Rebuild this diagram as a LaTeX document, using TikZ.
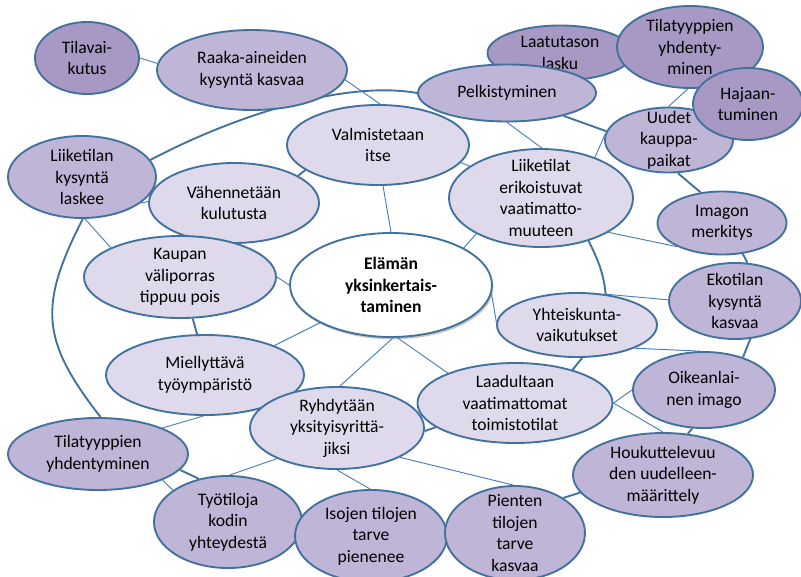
\documentclass[tikz,border=0pt]{standalone}
\usepackage{fontspec}
\setmainfont{Carlito}
\usepackage{tikz}
\usetikzlibrary{shapes}
\usetikzlibrary{shadows}
\definecolor{rimblue}{HTML}{41719C}
\definecolor{linkblue}{HTML}{4A7EBB}
\definecolor{palelilac}{HTML}{DFDAEB}
\definecolor{midlilac}{HTML}{BFB5D6}
\definecolor{deeplilac}{HTML}{A799C4}
\pgfdeclarelayer{background}
\pgfsetlayers{background,main}
\tikzset{
    bubble/.style={ellipse, draw=rimblue, line width=1.6pt, inner sep=0pt},
    palebub/.style={bubble, fill=palelilac},
    midbub/.style={bubble, fill=midlilac},
    deepbub/.style={bubble, fill=deeplilac},
    corebub/.style={bubble, fill=white,
        drop shadow={shadow xshift=1.2pt, shadow yshift=-2pt, fill=black!45}},
    every label/.style={align=center, inner sep=0pt, font=\fontsize{15}{18.3}\selectfont},
    thinline/.style={draw=linkblue, line width=0.8pt},
    ringline/.style={draw=rimblue, line width=1.6pt},
}

\begin{document}
\begin{tikzpicture}[x=0.03cm, y=0.03cm]
\useasboundingbox (0,0) rectangle (801,-576);

%LEFT SIDE
\node[deepbub, minimum width=3.12cm, minimum height=2.16cm, label=center:{Tilavai-\\kutus}] (tilavai) at (87,-58) {};
\node[midbub, minimum width=5.7cm, minimum height=2.4cm, label=center:{Raaka-aineiden\\kysyntä kasvaa}] (raaka) at (252,-70) {};
\node[midbub, minimum width=4.44cm, minimum height=2.46cm, label=center:{Liiketilan\\kysyntä\\laskee}] (liikelask) at (82,-177) {};
\node[palebub, minimum width=5.1cm, minimum height=2.4cm, label=center:{Vähennetään\\kulutusta}] (vahenn) at (234,-203) {};
\node[palebub, minimum width=5.76cm, minimum height=2.46cm, label=center:{Kaupan\\väliporras\\tippuu pois}] (kaupan) at (180,-277) {};
\node[palebub, minimum width=5.46cm, minimum height=2.4cm, label=center:{Valmistetaan\\itse}] (valm) at (378,-145) {};

%CENTRE
\node[corebub, minimum width=6.06cm, minimum height=3.12cm,
    label={[font=\fontsize{15}{18.3}\selectfont\bfseries]center:{Elämän\\yksinkertais-\\taminen}}] (core) at (391,-285) {};

%BOTTOM
\node[palebub, minimum width=5.94cm, minimum height=2.4cm, label=center:{Miellyttävä\\työympäristö}] (miell) at (205,-375) {};
\node[midbub, minimum width=5.4cm, minimum height=2.16cm, label=center:{Tilatyyppien\\yhdentyminen}] (tilaleft) at (98,-454) {};
\node[palebub, minimum width=5.22cm, minimum height=2.46cm, label=center:{Ryhdytään\\yksityisyrittä-\\jiksi}] (ryhdy) at (337,-428) {};
\node[midbub, minimum width=4.44cm, minimum height=2.76cm, label=center:{Työtiloja\\kodin\\yhteydestä}] (tyotil) at (228,-522) {};
\node[midbub, minimum width=4.56cm, minimum height=2.76cm, label=center:{Isojen tilojen\\tarve\\pienenee}] (isojen) at (371,-536) {};
\node[midbub, minimum width=4.2cm, minimum height=2.82cm, label=center:{Pienten\\tilojen\\tarve\\kasvaa}] (pienten) at (515,-533) {};
\node[midbub, minimum width=5.4cm, minimum height=2.52cm, label=center:{Houkuttelevuu\\den uudelleen-\\määrittely}] (houk) at (663,-475) {};
\node[midbub, minimum width=4.26cm, minimum height=2.28cm, label=center:{Oikeanlai-\\nen imago}] (oikea) at (704,-390) {};
\node[palebub, minimum width=5.85cm, minimum height=2.4cm, label=center:{Laadultaan\\vaatimattomat\\toimistotilat}] (laadult) at (515,-403) {};
\node[palebub, minimum width=4.8cm, minimum height=1.92cm, label=center:{Yhteiskunta-\\vaikutukset}] (yhteis) at (577,-325) {};

%RIGHT SIDE
\node[palebub, minimum width=5.52cm, minimum height=2.94cm, label=center:{Liiketilat\\erikoistuvat\\vaatimatto-\\muuteen}] (erik) at (541,-198) {};
\node[deepbub, minimum width=4.35cm, minimum height=1.65cm, label=center:{Laatutason\\lasku}] (laatu) at (560,-53) {};
\node[deepbub, minimum width=4.38cm, minimum height=2.46cm, label=center:{Tilatyyppien\\yhdenty-\\minen}] (tilatop) at (690,-47) {};
\node[midbub, minimum width=5.34cm, minimum height=1.71cm, label=center:{Pelkistyminen}] (pelk) at (507,-93) {};
\node[midbub, minimum width=3.84cm, minimum height=1.95cm, label=center:{Uudet\\kauppa-\\paikat}] (uudet) at (669,-140) {};
\node[deepbub, minimum width=3.3cm, minimum height=2.16cm, label=center:{Hajaan-\\tuminen}] (hajaan) at (748,-104) {};
\node[midbub, minimum width=3.87cm, minimum height=1.89cm, label=center:{Imagon\\merkitys}] (imagon) at (722,-223) {};
\node[midbub, minimum width=3.96cm, minimum height=2.28cm, label=center:{Ekotilan\\kysyntä\\kasvaa}] (ekotil) at (735,-301) {};

\begin{pgfonlayer}{background}
%THIN LINKS
\draw[thinline] (tilavai.0) -- (raaka.176);
\draw[thinline] (raaka.-6) -- (valm.87);
\draw[thinline] (liikelask.-24) -- (vahenn.179);
\draw[thinline] (liikelask.-86) -- (kaupan.157);
\draw[thinline] (valm.-83) -- (core.90);
\draw[thinline] (kaupan.0) -- (core.180);
\draw[thinline] (core.208) -- (miell.23);
\draw[thinline] (core.-88) -- (ryhdy.86);
\draw[thinline] (core.-83) -- (laadult.156);
\draw[thinline] (core.-5) -- (yhteis.178);
\draw[thinline] (core.27) -- (erik.209);
\draw[thinline] (pelk.-90) -- (erik.89);
\draw[thinline] (valm.-12) -- (erik.156);
\draw[thinline] (uudet.175) -- (erik.37);
\draw[thinline] (uudet.91) -- (tilatop.-93);
\draw[thinline] (erik.-27) -- (imagon.208);
\draw[thinline] (yhteis.47) -- (ekotil.179);
\draw[thinline] (yhteis.-22) -- (oikea.96);
\draw[thinline] (laadult.0) -- (oikea.180);
\draw[thinline] (laadult.0) -- (houk.90);
\draw[thinline] (ryhdy.-25) -- (pienten.92);
\draw[thinline] (ryhdy.-90) -- (isojen.91);
\draw[thinline] (ryhdy.207) -- (tyotil.88);
\draw[thinline] (miell.-92) -- (tilaleft.22);
\draw[thinline] (tilaleft.-22) -- (tyotil.150);

%THICK LINKS
\draw[ringline] (liikelask.14) to[out=28, in=170, looseness=0.75] (pelk.180);
\draw[ringline] (pelk.-22) -- (uudet.172);
\draw[ringline] (uudet.-75) -- (imagon.125);
\draw[ringline] (imagon.-56) -- (ekotil.72);
\draw[ringline] (ekotil.-68) -- (oikea.40);
\draw[ringline] (oikea.-107) -- (houk.59);
\draw[ringline] (houk.192) -- (pienten.36);
\draw[ringline] (tyotil.124) -- (tilaleft.-11);
\draw[ringline] (tilaleft.86) to[out=128, in=-117, looseness=1.25] (liikelask.-89);
\draw[ringline] (erik.-42) to[out=-64, in=96] (yhteis.47);
\draw[ringline] (kaupan.-73) -- (miell.101);
\draw[ringline] (laadult.30) -- (yhteis.-81);
\draw[ringline] (ryhdy.-2) -- (laadult.197);
\draw[ringline] (vahenn.23) -- (valm.199);
\end{pgfonlayer}
\end{tikzpicture}
\end{document}
